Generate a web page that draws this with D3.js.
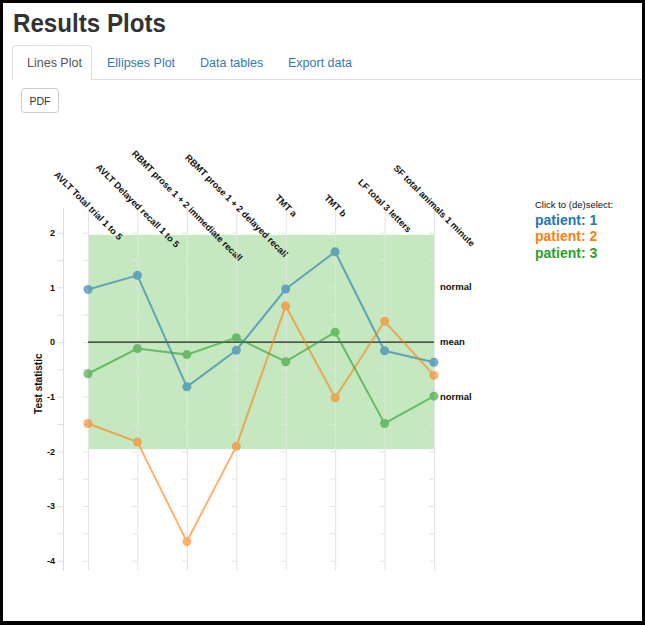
<!DOCTYPE html>
<html>
<head>
<meta charset="utf-8">
<script src="https://cdn.jsdelivr.net/npm/d3@7"></script>
<style>
  html, body { margin: 0; padding: 0; background: #fff; }
  svg { display: block; font-family: "Liberation Sans", Arial, Helvetica, sans-serif; }
</style>
</head>
<body>
<svg id="chart" width="645" height="625"></svg>
<script>
// ---- data ----
const categories = [
  "AVLT Total trial 1 to 5",
  "AVLT Delayed recall 1 to 5",
  "RBMT prose 1 + 2 immediate recall",
  "RBMT prose 1 + 2 delayed recall",
  "TMT a",
  "TMT b",
  "LF total 3 letters",
  "SF total animals 1 minute"
];
const patients = ["patient: 1", "patient: 2", "patient: 3"];
const patient1 = [0.96, 1.22, -0.82, -0.15, 0.97, 1.65, -0.16, -0.37];
const patient2 = [-1.49, -1.83, -3.65, -1.91, 0.66, -1.02, 0.38, -0.61];
const patient3 = [-0.58, -0.12, -0.23, 0.08, -0.36, 0.18, -1.49, -0.99];
const yTickValues = [-4, -3.5, -3, -2.5, -2, -1.5, -1, -0.5, 0, 0.5, 1, 1.5, 2];
const yDomain = [-4.17, 2.47];
const normalBand = [-1.96, 1.96];
const refLabels = [{ v: 1, t: "normal" }, { v: 0, t: "mean" }, { v: -1, t: "normal" }];
const tabs = ["Lines Plot", "Ellipses Plot", "Data tables", "Export data"];
const colors = ["#1f77b4", "#ff7f0e", "#2ca02c"];

const series = [patient1, patient2, patient3];

const svg = d3.select("#chart");

// ---- page chrome ----
svg.append("rect").attr("x", 0).attr("y", 0).attr("width", 645).attr("height", 625).attr("fill", "#000");
svg.append("rect").attr("x", 3).attr("y", 3).attr("width", 639).attr("height", 618).attr("fill", "#fff");

svg.append("text").attr("x", 13).attr("y", 32)
  .attr("font-size", 26).attr("font-weight", "bold").attr("fill", "#333")
  .attr("textLength", 153).attr("lengthAdjust", "spacingAndGlyphs")
  .text("Results Plots");

// nav line
svg.append("line").attr("x1", 12).attr("x2", 642).attr("y1", 79.5).attr("y2", 79.5)
  .attr("stroke", "#ddd");
// active tab
svg.append("path")
  .attr("d", "M12.5,80 L12.5,49 Q12.5,45.5 16,45.5 L88,45.5 Q91.5,45.5 91.5,49 L91.5,80")
  .attr("fill", "#fff").attr("stroke", "#ddd");
svg.append("rect").attr("x", 13).attr("y", 78).attr("width", 78).attr("height", 3).attr("fill", "#fff");
const tabX = [27, 107, 200, 288];
tabs.forEach((t, i) => {
  svg.append("text").attr("x", tabX[i]).attr("y", 67)
    .attr("font-size", 12.5).attr("fill", i === 0 ? "#555" : "#337ab7")
    .text(t);
});
// PDF button
svg.append("rect").attr("x", 21.5).attr("y", 88.5).attr("width", 37).attr("height", 24).attr("rx", 3)
  .attr("fill", "#fff").attr("stroke", "#ccc");
svg.append("text").attr("x", 40).attr("y", 104.5).attr("text-anchor", "middle")
  .attr("font-size", 10.5).attr("fill", "#333").text("PDF");

// ---- scales ----
const x = d3.scalePoint().domain(categories).range([88, 434]);
const y = d3.scaleLinear().domain(yDomain).range([570, 207]);

const g = svg.append("g");

// normal band
g.append("rect")
  .attr("x", x(categories[0])).attr("width", x(categories[categories.length - 1]) - x(categories[0]))
  .attr("y", y(normalBand[1])).attr("height", y(normalBand[0]) - y(normalBand[1]))
  .attr("fill", "#c5e8c0");

// column axes
categories.forEach(c => {
  const ax = g.append("g").attr("transform", `translate(${x(c)},0)`)
    .call(d3.axisLeft(y).tickValues(yTickValues).tickFormat("").tickSize(5).tickSizeOuter(0));
  ax.select(".domain").attr("stroke", "#e3e3e3");
  ax.selectAll(".tick line").attr("stroke", "#e3e3e3");
  ax.append("text")
    .attr("transform", `translate(0,206) rotate(45)`)
    .attr("text-anchor", "middle").attr("dy", "0.3em")
    .attr("font-size", 9.2).attr("font-weight", "bold").attr("fill", "#111")
    .text(c);
});

// main y axis
const yAx = g.append("g").attr("transform", "translate(63,0)")
  .call(d3.axisLeft(y).tickValues(yTickValues)
    .tickFormat(d => Number.isInteger(d) ? d : "").tickSize(5).tickSizeOuter(0));
yAx.select(".domain").attr("stroke", "#ddd");
yAx.selectAll(".tick line").attr("stroke", "#ddd");
yAx.selectAll(".tick text").attr("font-size", 9).attr("font-weight", "bold").attr("fill", "#111")
  .attr("font-family", "'Liberation Sans', Arial, sans-serif").attr("x", -8);

svg.append("text")
  .attr("transform", `translate(42,${(y(-1) + y(-1)) / 2 - 13}) rotate(-90)`)
  .attr("text-anchor", "middle").attr("font-size", 10).attr("font-weight", "bold").attr("fill", "#111")
  .text("Test statistic");

// mean line
g.append("line")
  .attr("x1", x(categories[0])).attr("x2", x(categories[categories.length - 1]))
  .attr("y1", y(0)).attr("y2", y(0)).attr("stroke", "#222").attr("stroke-width", 1.2);

// reference labels
refLabels.forEach(r => {
  g.append("text").attr("x", 440).attr("y", y(r.v)).attr("dy", "0.3em")
    .attr("font-size", 9.5).attr("font-weight", "bold").attr("fill", "#111").text(r.t);
});

// series
const line = d3.line().x((d, i) => x(categories[i])).y(d => y(d));
series.forEach((s, k) => {
  const sg = g.append("g").attr("opacity", 0.6);
  sg.append("path").datum(s).attr("d", line)
    .attr("fill", "none").attr("stroke", colors[k]).attr("stroke-width", 2);
  sg.selectAll("circle").data(s).join("circle")
    .attr("cx", (d, i) => x(categories[i])).attr("cy", d => y(d)).attr("r", 4.5)
    .attr("fill", colors[k]);
});

// legend
svg.append("text").attr("x", 535).attr("y", 207.5).attr("font-size", 9.5).attr("fill", "#111")
  .text("Click to (de)select:");
patients.forEach((p, i) => {
  svg.append("text").attr("x", 535).attr("y", 224.5 + i * 16.7)
    .attr("font-size", 14).attr("font-weight", "bold").attr("fill", colors[i])
    .text(p);
});
</script>
</body>
</html>
